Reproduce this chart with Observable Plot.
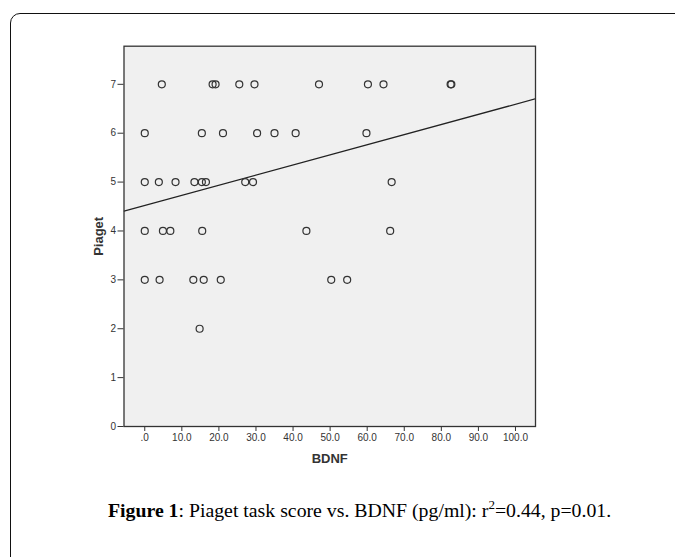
<!DOCTYPE html>
<html>
<head>
<meta charset="utf-8">
<script src="https://cdn.jsdelivr.net/npm/d3@7"></script>
<script src="https://cdn.jsdelivr.net/npm/@observablehq/plot@0.6"></script>
<style>
  html, body { margin: 0; padding: 0; width: 675px; height: 557px; overflow: hidden; background: #fff; }
  #box { position: absolute; left: 10px; top: 13px; width: 720px; height: 620px; border: 1.5px solid #111; border-radius: 10px; box-sizing: border-box; }
  #chart { position: absolute; left: 0; top: 0; }
  #caption { position: absolute; left: 108px; top: 499px; font-family: "Liberation Serif", "DejaVu Serif", serif; font-size: 19.8px; color: #000; white-space: nowrap; }
  #caption b { font-weight: bold; }
  #caption sup { font-size: 13px; vertical-align: 0; position: relative; top: -8px; }
  svg [aria-label="x-axis label"] text, svg [aria-label="y-axis label"] text { font-weight: bold; }
</style>
</head>
<body>
<div id="box"></div>
<div id="chart"></div>
<div id="caption"><b>Figure 1</b>: Piaget task score vs. BDNF (pg/ml): r<sup>2</sup>=0.44, p=0.01.</div>
<script>
// BDNF values (pg/ml) and Piaget scores
const bdnf = [
  4.6, 18.3, 19.1, 25.5, 29.6, 47.0, 60.2, 64.4, 82.5, 82.7,
  0, 15.4, 21.1, 30.3, 35.0, 40.7, 59.8,
  0, 3.8, 8.3, 13.4, 15.4, 16.5, 27.1, 29.2, 66.6,
  0, 4.9, 6.9, 15.5, 43.6, 66.2,
  0, 4.0, 13.1, 15.9, 20.5, 50.3, 54.6,
  14.8
];
const piaget = [
  7, 7, 7, 7, 7, 7, 7, 7, 7, 7,
  6, 6, 6, 6, 6, 6, 6,
  5, 5, 5, 5, 5, 5, 5, 5, 5,
  4, 4, 4, 4, 4, 4,
  3, 3, 3, 3, 3, 3, 3,
  2
];
const xTicks = [0, 10, 20, 30, 40, 50, 60, 70, 80, 90, 100];
const yTicks = [0, 1, 2, 3, 4, 5, 6, 7];
const xDomain = [-5.6, 105.4];
const yDomain = [0, 7.78];
// fitted regression line
const fitIntercept = 4.522;
const fitSlope = 0.0207;

const points = bdnf.map((x, i) => ({x, y: piaget[i]}));
const fitLine = xDomain.map(x => ({x, y: fitIntercept + fitSlope * x}));

const W = 675, H = 480;
const plot = Plot.plot({
  width: W,
  height: H,
  marginLeft: 123.5,
  marginRight: 140,
  marginTop: 45.7,
  marginBottom: 54,
  style: { fontFamily: "Liberation Sans, Arial, sans-serif", fontSize: "10px", color: "#333", background: "transparent" },
  x: { domain: xDomain, ticks: xTicks },
  y: { domain: yDomain, ticks: yTicks },
  marks: [
    Plot.frame({ fill: "#f0f0f0", stroke: "none" }),
    Plot.axisX({ ticks: xTicks, tickSize: 5, tickPadding: 2, tickFormat: d => d === 0 ? ".0" : d.toFixed(1),
      label: "BDNF", labelAnchor: "center", labelArrow: "none", labelOffset: 36, fontSize: 10 }),
    Plot.axisY({ ticks: yTicks, tickSize: 6, tickPadding: 2, tickFormat: d => String(d),
      label: "Piaget", labelAnchor: "center", labelArrow: "none", labelOffset: 30, fontSize: 10 }),
    Plot.line(fitLine, { x: "x", y: "y", stroke: "#222", strokeWidth: 1.3, clip: true }),
    Plot.dot(points, { x: "x", y: "y", r: 3.5, stroke: "#333", strokeWidth: 1.2, fill: "none" }),
    Plot.frame({ stroke: "#333", strokeWidth: 1.3 })
  ]
});
document.getElementById("chart").appendChild(plot);
// axis label font sizes
plot.querySelectorAll('[aria-label="x-axis label"] text, [aria-label="y-axis label"] text').forEach(t => t.setAttribute("font-size", "13"));
</script>
</body>
</html>
